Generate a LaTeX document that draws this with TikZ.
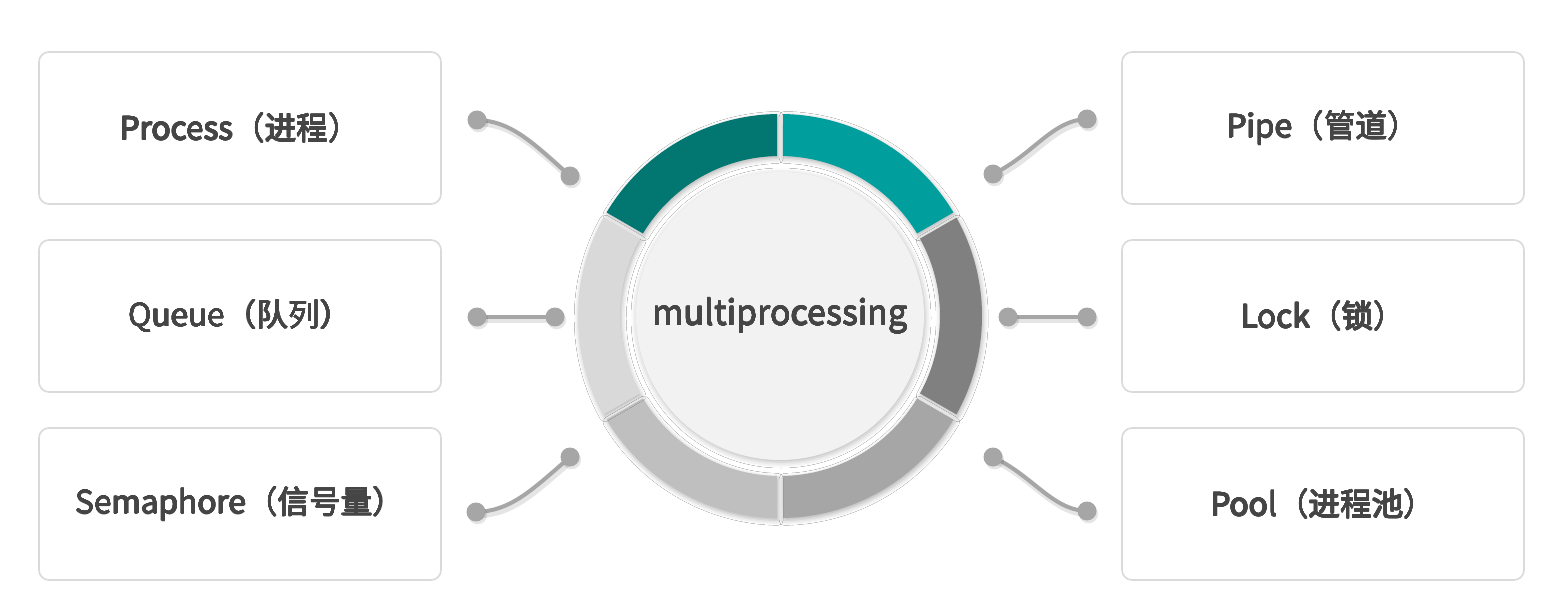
\documentclass[tikz,border=0pt]{standalone}
\usepackage{fontspec}
\newfontfamily\cjk{Noto Sans CJK SC}
\usepackage{contour}
\contourlength{0.12pt}
\contournumber{12}
\usetikzlibrary{shadows.blur}
\definecolor{txt}{HTML}{454545}
\definecolor{boxline}{HTML}{DADADA}
\definecolor{conncol}{HTML}{A6A6A6}
\definecolor{segA}{RGB}{2,118,113}
\definecolor{segB}{RGB}{0,158,156}
\definecolor{segC}{HTML}{808080}
\definecolor{segD}{HTML}{A6A6A6}
\definecolor{segE}{HTML}{BFBFBF}
\definecolor{segF}{HTML}{D9D9D9}
\definecolor{core}{HTML}{F2F2F2}
\newcommand{\medtext}[1]{\contour{txt}{#1}}
\tikzset{
  box/.style={draw=boxline, line width=0.8pt, fill=white, rounded corners=5pt,
    minimum width=201pt, minimum height=76pt, font=\cjk\fontsize{15.8}{18}\selectfont, text=txt},
  conn/.style={draw=conncol, line width=2pt,
    preaction={draw=black, draw opacity=0.10, line width=3.5pt,
      transform canvas={shift={(0.8pt,-1.4pt)}}}},
  dotc/.style={circle, fill=conncol, minimum size=9.5pt, inner sep=0pt,
    preaction={fill=black, fill opacity=0.10, transform canvas={shift={(0.8pt,-1.4pt)}}}},
  segshadow/.style={blur shadow={shadow xshift=0.6pt, shadow yshift=-1.2pt, shadow blur radius=2.5pt, shadow opacity=30}},
}
\newcommand{\ringseg}[3]{% start, end, color
  \fill[#3, segshadow] ([shift={(c)}]#1+0.85:202) arc[start angle=#1+0.85, end angle=#2-0.85, radius=101pt]
    -- ([shift={(c)}]#2-1.07:160) arc[start angle=#2-1.07, end angle=#1+1.07, radius=80pt] -- cycle;}
\begin{document}
\begin{tikzpicture}[x=0.5pt,y=0.5pt]
\useasboundingbox[fill=white] (0,0) rectangle (1565,-599);
% boxes
\node[box] (b1) at (240,-128) {\medtext{Process（进程）}};
\node[box] (b2) at (240,-316) {\medtext{Queue（队列）}};
\node[box] (b3) at (240,-504) {\medtext{Semaphore（信号量）}};
\node[box] (b4) at (1323,-128) {\medtext{Pipe（管道）}};
\node[box] (b5) at (1323,-316) {\medtext{Lock（锁）}};
\node[box] (b6) at (1323,-504) {\medtext{Pool（进程池）}};
% ring
\coordinate (c) at (780,-316);
\ringseg{90}{150}{segA}
\ringseg{30}{90}{segB}
\ringseg{-30}{30}{segC}
\ringseg{-90}{-30}{segD}
\ringseg{-150}{-90}{segE}
\ringseg{150}{210}{segF}
\node[circle, fill=core, minimum size=144pt, inner sep=0pt,
  blur shadow={shadow xshift=0.5pt, shadow yshift=-1pt, shadow blur radius=3pt, shadow opacity=28},
  font=\cjk\fontsize{17}{20}\selectfont, text=txt] (hub) at (c) {\medtext{multiprocessing}};
% connectors
\coordinate (l1a) at (477,-120); \coordinate (l1b) at (570,-176);
\coordinate (l2a) at (477,-317); \coordinate (l2b) at (555,-317);
\coordinate (l3a) at (476,-512); \coordinate (l3b) at (570,-457);
\coordinate (r1a) at (993,-174); \coordinate (r1b) at (1087,-119);
\coordinate (r2a) at (1008,-317); \coordinate (r2b) at (1087,-317);
\coordinate (r3a) at (993,-457); \coordinate (r3b) at (1087,-511);
\path[conn] (l1a) .. controls (510,-121) and (530,-140) .. (l1b);
\path[conn] (l2a) -- (l2b);
\path[conn] (l3a) .. controls (510,-511) and (530,-492) .. (l3b);
\path[conn] (r1a) .. controls (1033,-155) and (1052,-120) .. (r1b);
\path[conn] (r2a) -- (r2b);
\path[conn] (r3a) .. controls (1033,-476) and (1052,-510) .. (r3b);
\foreach \p in {l1a,l1b,l2a,l2b,l3a,l3b,r1a,r1b,r2a,r2b,r3a,r3b}
  \node[dotc] at (\p) {};
\end{tikzpicture}
\end{document}
